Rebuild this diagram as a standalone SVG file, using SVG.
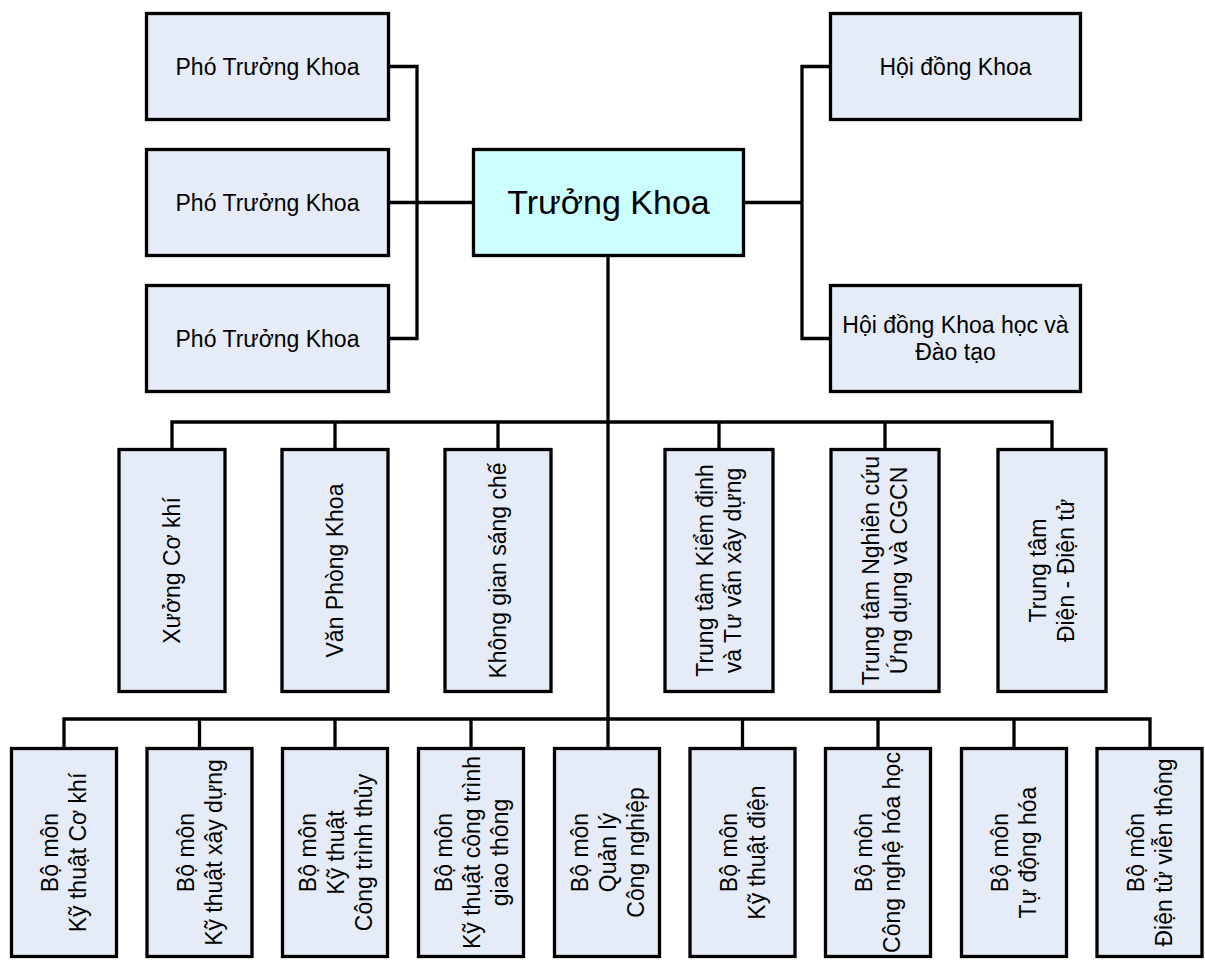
<svg xmlns="http://www.w3.org/2000/svg" width="1205" height="964" viewBox="0 0 1205 964">
<style>
.box{fill:#E6ECF7;stroke:#000;stroke-width:3.3}
.main{fill:#CCFFFF;stroke:#000;stroke-width:3.3}
.t{font-family:"Liberation Sans",Arial,sans-serif;font-size:23px;fill:#000;text-anchor:middle}
.big{font-size:34px}
.c{fill:none;stroke:#000;stroke-width:3.3;stroke-linejoin:miter}
</style>
<rect width="1205" height="964" fill="#fff"/>
<g id="connectors">
<path class="c" d="M390,66.5H417V338.5H390M390,202.5H472"/>
<path class="c" d="M745,202.5H802M829,66.5H802V338.5H829"/>
<path class="c" d="M608,257V747"/>
<path class="c" d="M172,448V422H1052V448M335,422V448M498,422V448M719,422V448M885,422V448"/>
<path class="c" d="M64,747V719H1150V747M199.5,719V747M335,719V747M471,719V747M742.5,719V747M878,719V747M1014,719V747"/>
</g>
<g id="pho1"><rect class="box" x="146.5" y="13.5" width="242" height="106"/><text class="t" x="267.5" y="74.5">Phó Trưởng Khoa</text></g>
<g id="pho2"><rect class="box" x="146.5" y="149.5" width="242" height="106"/><text class="t" x="267.5" y="210.5">Phó Trưởng Khoa</text></g>
<g id="pho3"><rect class="box" x="146.5" y="285.5" width="242" height="106"/><text class="t" x="267.5" y="346.5">Phó Trưởng Khoa</text></g>
<g id="truong"><rect class="main" x="473.5" y="149.5" width="270" height="106"/><text class="t big" x="608.5" y="214">Trưởng Khoa</text></g>
<g id="hoidong"><rect class="box" x="830.5" y="13.5" width="250" height="106"/><text class="t" x="955.5" y="74.5">Hội đồng Khoa</text></g>
<g id="hoidongkh"><rect class="box" x="830.5" y="285.5" width="250" height="106"/><text class="t" x="955.5" y="333">Hội đồng Khoa học và</text><text class="t" x="955.5" y="360">Đào tạo</text></g>

<g id="xuong"><rect class="box" x="119" y="449.5" width="106" height="242"/><text class="t" transform="translate(172,570.5) rotate(-90)" y="8">Xưởng Cơ khí</text></g>
<g id="vanphong"><rect class="box" x="282" y="449.5" width="106" height="242"/><text class="t" transform="translate(335,570.5) rotate(-90)" y="8">Văn Phòng Khoa</text></g>
<g id="khonggian"><rect class="box" x="445" y="449.5" width="106" height="242"/><text class="t" transform="translate(498,570.5) rotate(-90)" y="8">Không gian sáng chế</text></g>
<g id="ttkd"><rect class="box" x="665" y="449.5" width="108" height="242"/><text class="t" transform="translate(719,570.5) rotate(-90)"><tspan x="0" y="-6">Trung tâm Kiểm định</tspan><tspan x="0" y="22">và Tư vấn xây dựng</tspan></text></g>
<g id="ttnc"><rect class="box" x="831" y="449.5" width="108" height="242"/><text class="t" transform="translate(885,570.5) rotate(-90)"><tspan x="0" y="-6">Trung tâm Nghiên cứu</tspan><tspan x="0" y="22">Ứng dụng và CGCN</tspan></text></g>
<g id="ttdien"><rect class="box" x="998" y="449.5" width="108" height="242"/><text class="t" transform="translate(1052,570.5) rotate(-90)"><tspan x="0" y="-6">Trung tâm</tspan><tspan x="0" y="22">Điện - Điện tử</tspan></text></g>

<g id="bm1"><rect class="box" x="11.5" y="748.5" width="105" height="208"/><text class="t" transform="translate(64,852.5) rotate(-90)"><tspan x="0" y="-6">Bộ môn</tspan><tspan x="0" y="22">Kỹ thuật Cơ khí</tspan></text></g>
<g id="bm2"><rect class="box" x="147" y="748.5" width="105" height="208"/><text class="t" transform="translate(199.5,852.5) rotate(-90)"><tspan x="0" y="-6">Bộ môn</tspan><tspan x="0" y="22">Kỹ thuật xây dựng</tspan></text></g>
<g id="bm3"><rect class="box" x="282.5" y="748.5" width="105" height="208"/><text class="t" transform="translate(335,852.5) rotate(-90)"><tspan x="0" y="-19">Bộ môn</tspan><tspan x="0" y="9">Kỹ thuật</tspan><tspan x="0" y="37">Công trình thủy</tspan></text></g>
<g id="bm4"><rect class="box" x="418.5" y="748.5" width="105" height="208"/><text class="t" transform="translate(471,852.5) rotate(-90)"><tspan x="0" y="-19">Bộ môn</tspan><tspan x="0" y="9">Kỹ thuật công trình</tspan><tspan x="0" y="37">giao thông</tspan></text></g>
<g id="bm5"><rect class="box" x="554.5" y="748.5" width="105" height="208"/><text class="t" transform="translate(607,852.5) rotate(-90)"><tspan x="0" y="-19">Bộ môn</tspan><tspan x="0" y="9">Quản lý</tspan><tspan x="0" y="37">Công nghiệp</tspan></text></g>
<g id="bm6"><rect class="box" x="690" y="748.5" width="105" height="208"/><text class="t" transform="translate(742.5,852.5) rotate(-90)"><tspan x="0" y="-6">Bộ môn</tspan><tspan x="0" y="22">Kỹ thuật điện</tspan></text></g>
<g id="bm7"><rect class="box" x="825.5" y="748.5" width="105" height="208"/><text class="t" transform="translate(878,852.5) rotate(-90)"><tspan x="0" y="-6">Bộ môn</tspan><tspan x="0" y="22">Công nghệ hóa học</tspan></text></g>
<g id="bm8"><rect class="box" x="961.5" y="748.5" width="105" height="208"/><text class="t" transform="translate(1014,852.5) rotate(-90)"><tspan x="0" y="-6">Bộ môn</tspan><tspan x="0" y="22">Tự động hóa</tspan></text></g>
<g id="bm9"><rect class="box" x="1097" y="748.5" width="105" height="208"/><text class="t" transform="translate(1149.5,852.5) rotate(-90)"><tspan x="0" y="-6">Bộ môn</tspan><tspan x="0" y="22">Điện tử viễn thông</tspan></text></g>
</svg>
